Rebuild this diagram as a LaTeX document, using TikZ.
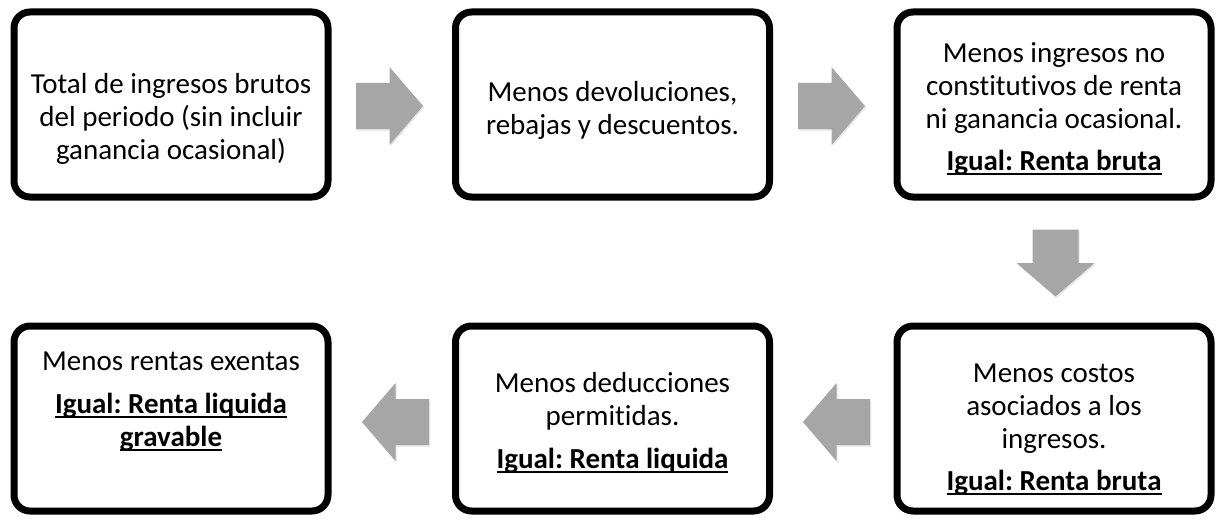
\documentclass[tikz,border=0pt]{standalone}
\usepackage{fontspec}
\setmainfont{Carlito}[Ligatures=NoCommon]
\usetikzlibrary{shadows}
\definecolor{arrowgray}{RGB}{166,166,166}
\newcommand\myul[1]{\setbox0\hbox{#1}\rlap{\rule[-5pt]{\wd0}{1.6pt}}\box0}
\tikzset{
  box/.style={draw=black, line width=7pt, rounded corners=16pt, fill=white,
    minimum width=314pt, minimum height=185pt, inner sep=0pt,
    drop shadow={shadow xshift=1pt, shadow yshift=-3pt, opacity=0.2, fill=black}},
  txt/.style={align=center, inner sep=0pt, font=\fontsize{29}{33}\selectfont\frenchspacing},
  blockarrow/.pic={
    \fill[arrowgray, drop shadow={shadow xshift=1pt, shadow yshift=-1.5pt, opacity=0.1, fill=black}]
      (-33.5,-23) -- (0,-23) -- (0,-39) -- (33.5,0) -- (0,39) -- (0,23) -- (-33.5,23) -- cycle;
  }
}
\begin{document}
\begin{tikzpicture}[x=1pt, y=-1pt]
\useasboundingbox (0,0) rectangle (1219,519);
% boxes
\node[box] (b1) at (171,104.5) {};
\node[box] (b2) at (612.5,104.5) {};
\node[box] (b3) at (1054,104.5) {};
\node[box] (b4) at (171,418.5) {};
\node[box] (b5) at (612.5,418.5) {};
\node[box] (b6) at (1054,418.5) {};
% texts
\node[txt] (t1) at (171,119.4) {\strut Total de ingresos brutos\\\strut del periodo (sin incluir\\\strut ganancia ocasional)};
\node[txt] (t2) at (612.5,111.9) {\strut Menos devoluciones,\\\strut rebajas y descuentos.};
\node[txt] (t3) at (1054,109.4) {\strut Menos ingresos no\\\strut constitutivos de renta\\\strut ni ganancia ocasional.\\[9pt]\strut\textbf{\myul{Igual: Renta bruta}}};
\node[txt] (t4) at (171,401.4) {\strut Menos rentas exentas\\[10pt]\strut\textbf{\myul{Igual: Renta liquida}}\\\strut\textbf{\myul{gravable}}};
\node[txt] (t5) at (612.5,423.4) {\strut Menos deducciones\\\strut permitidas.\\[10pt]\strut\textbf{\myul{Igual: Renta liquida}}};
\node[txt] (t6) at (1054,429.4) {\strut Menos costos\\\strut asociados a los\\\strut ingresos.\\[9pt]\strut\textbf{\myul{Igual: Renta bruta}}};
% block arrows
\pic at (389.5,106) {blockarrow};
\pic at (831.5,106) {blockarrow};
\pic[rotate=-90] at (1055.5,263) {blockarrow};
\pic[rotate=180] at (836.5,422) {blockarrow};
\pic[rotate=180] at (395.5,422) {blockarrow};
\end{tikzpicture}
\end{document}
